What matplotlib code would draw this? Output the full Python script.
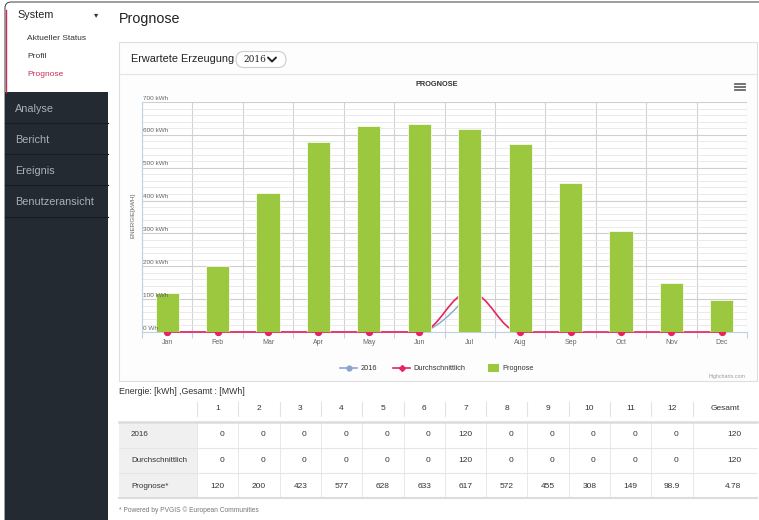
import matplotlib
matplotlib.use("Agg")
import matplotlib.pyplot as plt
from matplotlib.patches import Rectangle, FancyBboxPatch, PathPatch
from matplotlib.path import Path
import matplotlib.transforms as mtransforms

plt.rcParams['font.family'] = ['Liberation Sans', 'DejaVu Sans']

# ---------------- data ----------------
months = ["Jan", "Feb", "Mar", "Apr", "May", "Jun", "Jul", "Aug", "Sep", "Oct", "Nov", "Dec"]
col_headers = ["1", "2", "3", "4", "5", "6", "7", "8", "9", "10", "11", "12", "Gesamt"]
row_labels = ["2016", "Durchschnittlich", "Prognose*"]

prognose = [120, 200, 423, 577, 628, 633, 617, 572, 455, 308, 149, 98.9]
durchschnitt = [0, 0, 0, 0, 0, 0, 120, 0, 0, 0, 0, 0]
jahr_2016 = [0, 0, 0, 0, 0, 0, 120, 0, 0, 0, 0, 0]
jahr_2016_chart = [0, 0, 0, 0, 0, 0, 120, None, None, None, None, None]
gesamt = ["120", "120", "4.78"]

y_ticks = [0, 100, 200, 300, 400, 500, 600, 700]
y_tick_labels = ["0 Wh", "100 kWh", "200 kWh", "300 kWh", "400 kWh", "500 kWh", "600 kWh", "700 kWh"]

sidebar_sub = ["Aktueller Status", "Profil", "Prognose"]
sidebar_menu = ["Analyse", "Bericht", "Ereignis", "Benutzeransicht"]

GREEN = "#9bc83f"
RED = "#e8245e"
BLUE = "#8aa6cf"


def hc_spline(xs, ys):
    """Highcharts-style spline path through the given points."""
    pts = [(x, y) for x, y in zip(xs, ys) if y is not None]
    n = len(pts)
    conts = []
    for i, (x, y) in enumerate(pts):
        if 0 < i < n - 1:
            lx, ly = pts[i - 1]
            nx, ny = pts[i + 1]
            s, d = 1.5, 2.5
            lcx, lcy = (s * x + lx) / d, (s * y + ly) / d
            rcx, rcy = (s * x + nx) / d, (s * y + ny) / d
            if rcx != lcx:
                corr = ((rcy - lcy) * (rcx - x)) / (rcx - lcx) + y - rcy
                lcy += corr
                rcy += corr
            if lcy > ly and lcy > y:
                lcy = max(ly, y); rcy = 2 * y - lcy
            elif lcy < ly and lcy < y:
                lcy = min(ly, y); rcy = 2 * y - lcy
            if rcy > ny and rcy > y:
                rcy = max(ny, y); lcy = 2 * y - rcy
            elif rcy < ny and rcy < y:
                rcy = min(ny, y); lcy = 2 * y - rcy
            conts.append(((lcx, lcy), (rcx, rcy)))
        else:
            conts.append(((x, y), (x, y)))
    verts = [pts[0]]
    codes = [Path.MOVETO]
    for i in range(1, n):
        verts += [conts[i - 1][1], conts[i][0], pts[i]]
        codes += [Path.CURVE4] * 3
    return Path(verts, codes)


W, H = 759, 520
fig = plt.figure(figsize=(W / 100, H / 100), dpi=100)
fig.patch.set_facecolor("white")

bg = fig.add_axes([0, 0, 1, 1], zorder=0)
bg.set_xlim(0, W)
bg.set_ylim(H, 0)
bg.axis("off")

# ---------------- sidebar ----------------
bg.add_patch(FancyBboxPatch((5, 2), 800, 600, boxstyle="round,pad=0,rounding_size=6",
                            fc="none", ec="#3a3a3a", lw=0.7))
bg.add_patch(Rectangle((5, 92), 103, 430, fc="#232a31", ec="none"))
bg.plot([6, 6], [10, 92], color="#c8305a", lw=1.0)
bg.text(17, 15, "System", fontsize=7.8, color="#222", va="center")
bg.text(96, 15, "\u25be", fontsize=6, color="#333", va="center", ha="center", family=["DejaVu Sans"])
for i, t in enumerate(sidebar_sub):
    bg.text(27, 39 + 18 * i, t, fontsize=6, color="#c8305a" if t == "Prognose" else "#333", va="center")
for i, t in enumerate(sidebar_menu):
    bg.text(15, 108.5 + 31.2 * i, t, fontsize=7.8, color="#a9b0b7", va="center")
    bg.plot([5, 107.5], [123 + 31.2 * i, 123 + 31.2 * i], color="#181d22", lw=0.8)

# ---------------- page title and card ----------------
bg.text(119, 19.5, "Prognose", fontsize=10.3, color="#222", va="center")
bg.add_patch(Rectangle((119, 42), 638, 339, fc="#fdfdfd", ec="#dedede", lw=0.8))
bg.plot([119, 757], [74, 74], color="#e4e4e4", lw=0.8)
bg.text(131, 59, "Erwartete Erzeugung", fontsize=7.8, color="#222", va="center")
bg.add_patch(FancyBboxPatch((236, 51.5), 50, 16, boxstyle="round,pad=0,rounding_size=8",
                            fc="white", ec="#cccccc", lw=0.8))
bg.text(243, 59.5, "2016", fontsize=6.5, color="#222", va="center", family=["DejaVu Serif"])
bg.plot([268, 272, 276], [57.5, 61.5, 57.5], color="#222", lw=1.4, solid_capstyle="round")

# hamburger
for yy in (84, 87, 90):
    bg.plot([735, 745], [yy, yy], color="#666", lw=1.3)

bg.text(437, 84, "PROGNOSE", fontsize=5.3, fontweight="bold", color="#333", ha="center", va="center")
bg.text(133.5, 215, "ENERGIE[kWH]", fontsize=4.5, color="#666", ha="center", va="center", rotation=90)

# ---------------- chart ----------------
ax = fig.add_axes([142 / W, (H - 332) / H, 605 / W, 230 / H], zorder=1)
ax.set_facecolor("white")
x = list(range(len(months)))
ax.set_xlim(-0.5, len(months) - 0.5)
ax.set_ylim(0, 700)

ax.set_yticks(y_ticks)
ax.set_yticks(range(0, 701, 20), minor=True)
ax.set_xticks(x)
ax.set_xticklabels(months, fontsize=5, color="#666")
ax.set_xticks([i - 0.5 for i in range(len(months) + 1)], minor=True)
ax.tick_params(axis="y", which="both", length=0, labelleft=False)
ax.tick_params(axis="x", which="major", length=0, pad=5)
ax.tick_params(axis="x", which="minor", length=4, color="#c0d0e0", width=0.8)
ax.grid(True, which="major", axis="y", color="#cfcfcf", lw=0.8)
ax.grid(True, which="minor", axis="y", color="#e6e6e6", lw=0.6)
ax.grid(True, which="minor", axis="x", color="#d3d3d3", lw=0.8)
ax.set_axisbelow(True)
for sp in ("top", "right"):
    ax.spines[sp].set_visible(False)
ax.spines["left"].set_color("#c0d0e0")
ax.spines["bottom"].set_color("#c0d0e0")
ax.spines["left"].set_linewidth(0.8)
ax.spines["bottom"].set_linewidth(0.8)

trans = mtransforms.blended_transform_factory(ax.transAxes, ax.transData)
for v, lab in zip(y_ticks, y_tick_labels):
    ax.annotate(lab, xy=(0, v), xycoords=trans, xytext=(1, 1), textcoords="offset points",
                fontsize=4.6, color="#666", va="bottom", ha="left", zorder=6)

# lines (behind the bars)
ax.add_patch(PathPatch(hc_spline(x, jahr_2016_chart), fc="none", ec=BLUE, lw=1.0, zorder=2, clip_on=False))
ax.plot([xi for xi, v in zip(x, jahr_2016_chart) if v is not None],
        [v for v in jahr_2016_chart if v is not None], ls="none", marker="o", ms=4, color=BLUE,
        zorder=2, clip_on=False)
ax.add_patch(PathPatch(hc_spline(x, durchschnitt), fc="none", ec=RED, lw=1.2, zorder=3, clip_on=False))
ax.plot(x, durchschnitt, ls="none", marker="o", ms=4.2, color=RED, zorder=3, clip_on=False)

ax.bar(x, prognose, width=0.46, color=GREEN, edgecolor="white", lw=0.5, zorder=4)

# legend
bg.plot([340, 357], [368, 368], color=BLUE, lw=1.2)
bg.plot([348.5], [368], marker="o", ms=3.5, color=BLUE)
bg.text(361, 368, "2016", fontsize=5.3, color="#333", va="center")
bg.plot([393, 410], [368, 368], color=RED, lw=1.2)
bg.plot([401.5], [368], marker="D", ms=3, color=RED)
bg.text(413, 368, "Durchschnittlich", fontsize=5.3, color="#333", va="center")
bg.add_patch(Rectangle((488, 364), 11, 8, fc=GREEN, ec="none"))
bg.text(502, 368, "Prognose", fontsize=5.3, color="#333", va="center")
bg.text(746, 376.5, "Highcharts.com", fontsize=3.8, color="#999", ha="right", va="center")

# ---------------- table ----------------
bg.text(119, 392, "Energie: [kWh] ,Gesamt : [MWh]", fontsize=6.3, color="#333", va="center")
col_w = 41.3
x0 = 197
edges = [x0 + i * col_w for i in range(13)] + [757]
header_y = 409
row_ys = [435, 460, 486.5]
row_tops = [423, 447.5, 472.5, 498]

bg.add_patch(Rectangle((119, row_tops[0]), x0 - 119, row_tops[-1] - row_tops[0], fc="#f0f0f0", ec="none"))
for i, h in enumerate(col_headers):
    cx = (edges[i] + edges[i + 1]) / 2
    bg.text(cx, header_y, h, fontsize=6, color="#333", ha="center", va="center")
for e in edges[:-1]:
    bg.plot([e, e], [402, 416], color="#e2e2e2", lw=0.8)
    bg.plot([e, e], [row_tops[0], row_tops[-1]], color="#e8e8e8", lw=0.7)
bg.plot([119, 757], [422, 422], color="#dcdcdc", lw=1.8)
bg.plot([119, 757], [447.5, 447.5], color="#e6e6e6", lw=0.8)
bg.plot([119, 757], [472.5, 472.5], color="#e6e6e6", lw=0.8)
bg.plot([119, 757], [498, 498], color="#dcdcdc", lw=1.5)

table_rows = [jahr_2016, durchschnitt, prognose]
for r, (lab, vals, tot) in enumerate(zip(row_labels, table_rows, gesamt)):
    y = row_ys[r]
    bg.text(131, y, lab, fontsize=5.8, color="#333", va="center")
    for i, v in enumerate(vals):
        cx = (edges[i] + edges[i + 1]) / 2
        s = f"{v:g}"
        bg.text(cx + (4 if s == "0" else 0), y, s, fontsize=6, color="#333", ha="center", va="center")
    bg.text(741, y, tot, fontsize=6, color="#333", ha="right", va="center")

bg.text(119, 510, "* Powered by PVGIS \u00a9 European Communities", fontsize=4.8, color="#777", va="center")

fig.savefig("out.png", dpi=100)
